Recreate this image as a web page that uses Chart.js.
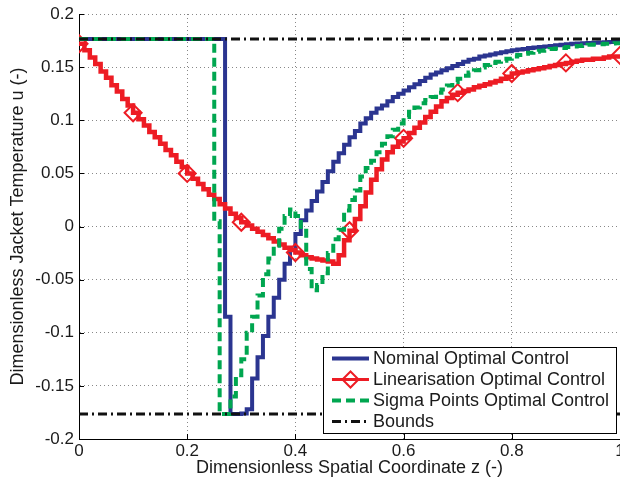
<!DOCTYPE html>
<html>
<head>
<meta charset="utf-8">
<script src="https://cdn.jsdelivr.net/npm/chart.js@4"></script>
<style>
  body { margin: 0; background: #fff; }
  canvas { display: block; }
</style>
</head>
<body>
<canvas id="myChart" width="620" height="481"></canvas>
<script>
// spatial grid z (-)
const zValues = [
  0.00, 0.01, 0.02, 0.03, 0.04, 0.05, 0.06, 0.07, 0.08, 0.09,
  0.10, 0.11, 0.12, 0.13, 0.14, 0.15, 0.16, 0.17, 0.18, 0.19,
  0.20, 0.21, 0.22, 0.23, 0.24, 0.25, 0.26, 0.27, 0.28, 0.29,
  0.30, 0.31, 0.32, 0.33, 0.34, 0.35, 0.36, 0.37, 0.38, 0.39,
  0.40, 0.41, 0.42, 0.43, 0.44, 0.45, 0.46, 0.47, 0.48, 0.49,
  0.50, 0.51, 0.52, 0.53, 0.54, 0.55, 0.56, 0.57, 0.58, 0.59,
  0.60, 0.61, 0.62, 0.63, 0.64, 0.65, 0.66, 0.67, 0.68, 0.69,
  0.70, 0.71, 0.72, 0.73, 0.74, 0.75, 0.76, 0.77, 0.78, 0.79,
  0.80, 0.81, 0.82, 0.83, 0.84, 0.85, 0.86, 0.87, 0.88, 0.89,
  0.90, 0.91, 0.92, 0.93, 0.94, 0.95, 0.96, 0.97, 0.98, 0.99,
  1.00
];

const nominal = [
  0.1765, 0.1765, 0.1765, 0.1765, 0.1765, 0.1765, 0.1765, 0.1765, 0.1765, 0.1765,
  0.1765, 0.1765, 0.1765, 0.1765, 0.1765, 0.1765, 0.1765, 0.1765, 0.1765, 0.1765,
  0.1765, 0.1765, 0.1765, 0.1765, 0.1765, 0.1765, 0.1765, -0.085, -0.1765, -0.1765,
  -0.176, -0.172, -0.143, -0.123, -0.103, -0.085, -0.067, -0.050, -0.035, -0.022,
  -0.007, 0.006, 0.015, 0.024, 0.033, 0.042, 0.052, 0.061, 0.069, 0.077,
  0.084, 0.090, 0.097, 0.102, 0.107, 0.111, 0.114, 0.118, 0.122, 0.125,
  0.128, 0.131, 0.134, 0.137, 0.140, 0.143, 0.145, 0.147, 0.149, 0.151,
  0.153, 0.155, 0.157, 0.158, 0.160, 0.161, 0.162, 0.163, 0.164, 0.165,
  0.166, 0.1665, 0.167, 0.168, 0.1685, 0.169, 0.1695, 0.170, 0.1705, 0.171,
  0.1715, 0.172, 0.1722, 0.1725, 0.1728, 0.173, 0.1732, 0.1735, 0.1737, 0.174,
  0.174
];

const linearisation = [
  0.172, 0.166, 0.159, 0.153, 0.146, 0.140, 0.133, 0.127, 0.120, 0.114,
  0.107, 0.101, 0.095, 0.089, 0.084, 0.078, 0.072, 0.067, 0.061, 0.056,
  0.050, 0.045, 0.040, 0.035, 0.030, 0.026, 0.021, 0.017, 0.012, 0.008,
  0.004, 0.001, -0.002, -0.005, -0.008, -0.011, -0.014, -0.017, -0.020, -0.022,
  -0.0245, -0.027, -0.029, -0.030, -0.031, -0.032, -0.033, -0.035, -0.027, -0.013,
  -0.004, 0.007, 0.019, 0.032, 0.044, 0.054, 0.063, 0.070, 0.075, 0.080,
  0.083, 0.088, 0.093, 0.098, 0.103, 0.108, 0.113, 0.118, 0.121, 0.124,
  0.126, 0.1275, 0.129, 0.131, 0.1325, 0.134, 0.1355, 0.137, 0.139, 0.141,
  0.144, 0.145, 0.146, 0.147, 0.148, 0.149, 0.150, 0.151, 0.152, 0.153,
  0.154, 0.155, 0.156, 0.157, 0.157, 0.158, 0.158, 0.159, 0.160, 0.160,
  0.161
];

const sigmaPoints = [
  0.1765, 0.1765, 0.1765, 0.1765, 0.1765, 0.1765, 0.1765, 0.1765, 0.1765, 0.1765,
  0.1765, 0.1765, 0.1765, 0.1765, 0.1765, 0.1765, 0.1765, 0.1765, 0.1765, 0.1765,
  0.1765, 0.1765, 0.1765, 0.1765, 0.1765, 0.005, -0.1765, -0.1765, -0.160, -0.140,
  -0.125, -0.100, -0.085, -0.065, -0.045, -0.030, -0.018, -0.002, 0.010, 0.016,
  0.010, -0.004, -0.040, -0.060, -0.055, -0.044, -0.025, -0.012, -0.003, 0.015,
  0.025, 0.034, 0.047, 0.055, 0.062, 0.070, 0.078, 0.085, 0.091, 0.097,
  0.103, 0.108, 0.112, 0.116, 0.119, 0.122, 0.126, 0.129, 0.1327, 0.136,
  0.139, 0.142, 0.145, 0.147, 0.1497, 0.152, 0.154, 0.155, 0.156, 0.158,
  0.160, 0.1615, 0.1625, 0.1635, 0.1645, 0.1655, 0.166, 0.167, 0.1675, 0.168,
  0.169, 0.1695, 0.170, 0.1705, 0.171, 0.1713, 0.1716, 0.172, 0.1722, 0.1725,
  0.1725
];

const boundZ = [0, 1];
const upperBound = [0.1765, 0.1765];
const lowerBound = [-0.1765, -0.1765];

const xTicks = [0, 0.2, 0.4, 0.6, 0.8, 1];
const yTicks = [-0.2, -0.15, -0.1, -0.05, 0, 0.05, 0.1, 0.15, 0.2];

const legendLabels = ['Nominal Optimal Control', 'Linearisation Optimal Control', 'Sigma Points Optimal Control', 'Bounds'];

const BLUE = '#2b3590';
const RED = '#ed1c24';
const GREEN = '#00a650';
const BLACK = '#111111';
const FONT = '"Liberation Sans", Arial, sans-serif';

function pairs(xs, ys) {
    return ys.map((y, i) => ({ x: xs[i], y: y }));
}

// diamonds on every 10th sample of the red curve
const redMarkers = linearisation.map((v, i) => (i % 10 === 0 ? 8.5 : 0));

// small inward tick marks, matlab style
const innerTicks = {
    id: 'innerTicks',
    afterDraw(chart) {
        const ctx = chart.ctx;
        const area = chart.chartArea;
        const xs = chart.scales.x, ys = chart.scales.y;
        ctx.save();
        ctx.strokeStyle = '#000';
        ctx.lineWidth = 1;
        ctx.beginPath();
        xTicks.forEach(v => {
            const px = Math.round(xs.getPixelForValue(v)) + 0.5;
            ctx.moveTo(px, area.bottom);
            ctx.lineTo(px, area.bottom - 5);
        });
        yTicks.forEach(v => {
            const py = Math.round(ys.getPixelForValue(v)) + 0.5;
            ctx.moveTo(area.left, py);
            ctx.lineTo(area.left + 5, py);
        });
        ctx.stroke();
        ctx.restore();
    }
};

// legend drawn inside the plot, lower right
const legendBox = {
    id: 'legendBox',
    afterDraw(chart) {
        const ctx = chart.ctx;
        const x0 = 323, y0 = 347, w = 293, h = 86;
        ctx.save();
        ctx.fillStyle = '#fff';
        ctx.fillRect(x0, y0, w, h);
        ctx.strokeStyle = '#000';
        ctx.lineWidth = 1;
        ctx.strokeRect(x0 + 0.5, y0 + 0.5, w, h);

        const styles = [
            { color: BLUE, width: 4, dash: [] },
            { color: RED, width: 3, dash: [], marker: true },
            { color: GREEN, width: 4, dash: [9, 5] },
            { color: BLACK, width: 3, dash: [9, 4, 2, 4] }
        ];
        ctx.font = '18px ' + FONT;
        ctx.textBaseline = 'middle';
        styles.forEach((s, i) => {
            const y = y0 + 11.5 + i * 21;
            ctx.strokeStyle = s.color;
            ctx.lineWidth = s.width;
            ctx.setLineDash(s.dash);
            ctx.beginPath();
            ctx.moveTo(332, y);
            ctx.lineTo(369, y);
            ctx.stroke();
            ctx.setLineDash([]);
            if (s.marker) {
                ctx.lineWidth = 2;
                ctx.fillStyle = '#fff';
                ctx.beginPath();
                ctx.moveTo(350.5 - 8, y);
                ctx.lineTo(350.5, y - 8);
                ctx.lineTo(350.5 + 8, y);
                ctx.lineTo(350.5, y + 8);
                ctx.closePath();
                ctx.fill();
                ctx.stroke();
                ctx.beginPath();
                ctx.lineWidth = 3;
                ctx.moveTo(342.5, y);
                ctx.lineTo(358.5, y);
                ctx.stroke();
            }
            ctx.fillStyle = '#1a1a1a';
            ctx.fillText(legendLabels[i], 373, y + 1);
        });
        ctx.restore();
    }
};

const ctx = document.getElementById('myChart');

new Chart(ctx, {
    type: 'line',
    data: {
        datasets: [
            {
                label: legendLabels[0],
                data: pairs(zValues, nominal),
                borderColor: BLUE,
                borderWidth: 4,
                stepped: 'before',
                pointRadius: 0,
                order: 4
            },
            {
                label: legendLabels[1],
                data: pairs(zValues, linearisation),
                borderColor: RED,
                borderWidth: 4.5,
                stepped: 'before',
                pointStyle: 'rectRot',
                pointRadius: redMarkers,
                pointBorderWidth: 2,
                pointBorderColor: RED,
                pointBackgroundColor: 'rgba(0,0,0,0)',
                order: 3
            },
            {
                label: legendLabels[2],
                data: pairs(zValues, sigmaPoints),
                borderColor: GREEN,
                borderWidth: 4,
                borderDash: [9, 5],
                stepped: 'before',
                pointRadius: 0,
                order: 2
            },
            {
                label: legendLabels[3],
                data: pairs(boundZ, upperBound),
                borderColor: BLACK,
                borderWidth: 3,
                borderDash: [9, 4, 2, 4],
                pointRadius: 0,
                order: 1
            },
            {
                label: legendLabels[3] + ' (lower)',
                data: pairs(boundZ, lowerBound),
                borderColor: BLACK,
                borderWidth: 3,
                borderDash: [9, 4, 2, 4],
                pointRadius: 0,
                order: 1
            }
        ]
    },
    options: {
        responsive: false,
        animation: false,
        layout: { autoPadding: false, padding: { top: 14, left: 0, right: 0, bottom: 0 } },
        plugins: {
            legend: { display: false },
            tooltip: { enabled: false }
        },
        scales: {
            x: {
                type: 'linear',
                min: 0,
                max: 1,
                afterBuildTicks: (scale) => { scale.ticks = xTicks.map(v => ({ value: v })); },
                afterFit: (scale) => { scale.height = 42; scale.paddingLeft = 0; scale.paddingRight = 0; },
                ticks: {
                    color: '#1a1a1a',
                    font: { family: FONT, size: 17 },
                    padding: 2,
                    maxRotation: 0,
                    callback: (v) => String(v)
                },
                grid: { color: '#888', lineWidth: 1, drawTicks: false },
                border: { display: true, color: '#000', width: 1, dash: [1, 3] },
                title: {
                    display: true,
                    text: 'Dimensionless Spatial Coordinate z (-)',
                    color: '#1a1a1a',
                    font: { family: FONT, size: 18 },
                    padding: { top: 0, bottom: 2 }
                }
            },
            y: {
                type: 'linear',
                min: -0.2,
                max: 0.2,
                afterBuildTicks: (scale) => { scale.ticks = yTicks.map(v => ({ value: v })); },
                afterFit: (scale) => { scale.width = 79; scale.paddingTop = 0; scale.paddingBottom = 0; },
                ticks: {
                    color: '#1a1a1a',
                    font: { family: FONT, size: 17 },
                    padding: 5,
                    callback: (v) => String(v)
                },
                grid: { color: '#888', lineWidth: 1, drawTicks: false },
                border: { display: true, color: '#000', width: 1, dash: [1, 3] },
                title: {
                    display: true,
                    text: 'Dimensionless Jacket Temperature u (-)',
                    color: '#1a1a1a',
                    font: { family: FONT, size: 18 },
                    padding: { top: 7, bottom: 0 }
                }
            }
        }
    },
    plugins: [innerTicks, legendBox]
});
</script>
</body>
</html>
